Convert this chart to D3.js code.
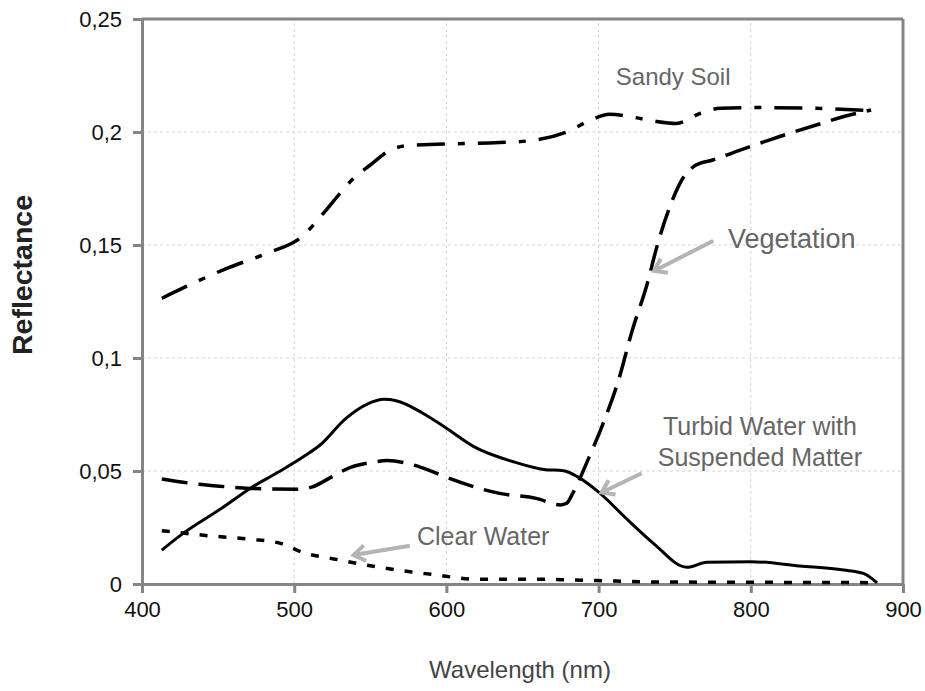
<!DOCTYPE html>
<html>
<head>
<meta charset="utf-8">
<script src="https://cdn.jsdelivr.net/npm/d3@7"></script>
<style>
  html, body { margin: 0; padding: 0; background: #fff; }
  svg { display: block; }
</style>
</head>
<body>
<svg id="chart" width="925" height="691"></svg>
<script>
// ---------------- DATA ----------------
const xTickValues = [400, 500, 600, 700, 800, 900];
const xTickLabels = ["400", "500", "600", "700", "800", "900"];
const yTickValues = [0, 0.05, 0.1, 0.15, 0.2, 0.25];
const yTickLabels = ["0", "0,05", "0,1", "0,15", "0,2", "0,25"];

const sandyWl   = [413, 427, 457, 482, 505, 520, 529, 539, 550, 563, 575, 589, 635, 659, 679, 695, 707, 723, 736, 751, 767, 780, 804, 843, 879];
const sandyRefl = [0.1264, 0.131, 0.140, 0.1463, 0.1537, 0.1647, 0.172, 0.1795, 0.1854, 0.192, 0.194, 0.1945, 0.1953, 0.1965, 0.200, 0.2053, 0.2078, 0.2065, 0.2049, 0.2038, 0.2083, 0.2105, 0.2108, 0.2105, 0.2094];

const vegWl   = [413, 427, 449, 471, 504, 512, 525, 537, 550, 561, 576, 588, 599, 635, 659, 675, 679, 683, 693, 703, 713, 722, 732, 738, 746, 756, 764, 775, 793, 819, 843, 865, 879];
const vegRefl = [0.0465, 0.045, 0.0434, 0.0423, 0.0419, 0.043, 0.0475, 0.0516, 0.0537, 0.0546, 0.0531, 0.0505, 0.0475, 0.0401, 0.0379, 0.035, 0.0357, 0.0401, 0.0549, 0.0711, 0.0900, 0.1120, 0.1330, 0.1485, 0.1655, 0.1802, 0.1854, 0.1876, 0.192, 0.198, 0.2031, 0.2075, 0.2097];

const turbidWl   = [413, 427, 453, 471, 489, 506, 517, 534, 548, 559, 567, 584, 600, 618, 644, 664, 677, 686, 701, 718, 736, 758, 771, 800, 832, 861, 874, 883];
const turbidRefl = [0.015, 0.0224, 0.0338, 0.0423, 0.0493, 0.0563, 0.0615, 0.0733, 0.0796, 0.0817, 0.0811, 0.0758, 0.0689, 0.0608, 0.0541, 0.0507, 0.0501, 0.0475, 0.0401, 0.0291, 0.018, 0.0074, 0.0096, 0.0099, 0.008, 0.0062, 0.0047, 0.0005];

const clearWl   = [413, 443, 471, 491, 506, 526, 556, 576, 590, 620, 666, 681, 699, 736, 780, 878];
const clearRefl = [0.0236, 0.0214, 0.0198, 0.018, 0.0139, 0.0111, 0.0074, 0.0054, 0.0043, 0.0021, 0.0021, 0.0018, 0.0015, 0.0009, 0.0008, 0.0006];

const seriesNames = ["Sandy Soil", "Vegetation", "Turbid Water", "Clear Water"];

// annotation labels (data coordinates)
const labelTexts  = [["Sandy Soil"], ["Vegetation"], ["Turbid Water with", "Suspended Matter"], ["Clear Water"]];
const labelWl     = [749, 785, 806, 580.7];
const labelRefl   = [0.2208, 0.1487, 0.0659, 0.0173];
const arrowTailWl   = [null, 775.4, 728.3, 576];
const arrowTailRefl = [null, 0.1519, 0.049, 0.0169];
const arrowTipWl    = [null, 736.4, 702, 539];
const arrowTipRefl  = [null, 0.1385, 0.0405, 0.0128];

// ---------------- LAYOUT ----------------
const svg = d3.select("#chart");
const x = d3.scaleLinear().domain([400, 900]).range([142, 903]);
const y = d3.scaleLinear().domain([0, 0.25]).range([584, 19]);
const axisColor = "#858585";
const font = "'Liberation Sans', Arial, sans-serif";

// grid
const grid = svg.append("g");
grid.selectAll("line.vg").data(xTickValues.slice(1, -1)).enter().append("line")
  .attr("x1", d => x(d)).attr("x2", d => x(d)).attr("y1", y(0)).attr("y2", y(0.25))
  .attr("stroke", "#d4d4d4").attr("stroke-width", 1).attr("stroke-dasharray", "3,3");
grid.selectAll("line.hg").data(yTickValues.slice(1, -1)).enter().append("line")
  .attr("x1", x(400)).attr("x2", x(900)).attr("y1", d => y(d)).attr("y2", d => y(d))
  .attr("stroke", "#d4d4d4").attr("stroke-width", 1).attr("stroke-dasharray", "3,3");

// frame top/right
svg.append("line").attr("x1", x(400)).attr("x2", x(900)).attr("y1", y(0.25)).attr("y2", y(0.25))
  .attr("stroke", axisColor).attr("stroke-width", 3);
svg.append("line").attr("x1", x(900)).attr("x2", x(900)).attr("y1", y(0.25)).attr("y2", y(0))
  .attr("stroke", axisColor).attr("stroke-width", 3);

// axes
const xAxis = d3.axisBottom(x).tickValues(xTickValues)
  .tickFormat((d, i) => xTickLabels[i]).tickSize(9).tickSizeOuter(0).tickPadding(8);
const yAxis = d3.axisLeft(y).tickValues(yTickValues)
  .tickFormat((d, i) => yTickLabels[i]).tickSize(9).tickSizeOuter(0).tickPadding(11);

const gx = svg.append("g").attr("transform", `translate(0,${y(0)})`).call(xAxis);
const gy = svg.append("g").attr("transform", `translate(${x(400)},0)`).call(yAxis);
[gx, gy].forEach(g => {
  g.select(".domain").attr("stroke", axisColor).attr("stroke-width", 3);
  g.selectAll(".tick line").attr("stroke", axisColor).attr("stroke-width", 3);
  g.selectAll(".tick text").attr("fill", "#111").style("font-family", font).style("font-size", "22px");
});

// axis titles
svg.append("text").attr("x", 520).attr("y", 678).attr("text-anchor", "middle")
  .style("font-family", font).style("font-size", "24px").attr("fill", "#444")
  .text("Wavelength (nm)");
svg.append("text").attr("transform", "translate(32,275) rotate(-90)").attr("text-anchor", "middle")
  .style("font-family", font).style("font-size", "27px").style("font-weight", "bold").attr("fill", "#222")
  .attr("textLength", 160).attr("lengthAdjust", "spacingAndGlyphs")
  .text("Reflectance");

// series
const line = d3.line().x(d => x(d[0])).y(d => y(d[1])).curve(d3.curveMonotoneX);
const seriesWl = [sandyWl, vegWl, turbidWl, clearWl];
const seriesRefl = [sandyRefl, vegRefl, turbidRefl, clearRefl];
const seriesDash = ["28,13,7,13", "26,11", null, "8,11"];
const seriesWidth = [3.5, 3.5, 3, 3.5];
seriesNames.forEach((name, i) => {
  const pts = seriesWl[i].map((w, j) => [w, seriesRefl[i][j]]);
  svg.append("path").datum(pts).attr("d", line)
    .attr("fill", "none").attr("stroke", "#000")
    .attr("stroke-width", seriesWidth[i])
    .attr("stroke-dasharray", seriesDash[i])
    .attr("stroke-linejoin", "round");
});

// annotations
const annColor = "#666";
const arrowColor = "#b4b4b4";
const labelSizes = ["24px", "27px", "25px", "25px"];
labelTexts.forEach((lines, i) => {
  const anchor = (i === 0 || i === 2) ? "middle" : "start";
  const t = svg.append("text").attr("x", x(labelWl[i])).attr("y", y(labelRefl[i]))
    .attr("text-anchor", anchor).attr("fill", annColor)
    .style("font-family", font).style("font-size", labelSizes[i]);
  lines.forEach((s, k) => {
    t.append("tspan").attr("x", x(labelWl[i])).attr("dy", k === 0 ? 0 : 31).text(s);
  });
  if (arrowTailWl[i] !== null) {
    const x1 = x(arrowTailWl[i]), y1 = y(arrowTailRefl[i]);
    const x2 = x(arrowTipWl[i]), y2 = y(arrowTipRefl[i]);
    const ang = Math.atan2(y1 - y2, x1 - x2);
    const L = 14, a = 0.6;
    const p = `M${x1},${y1}L${x2},${y2}` +
      `M${x2 + L * Math.cos(ang - a)},${y2 + L * Math.sin(ang - a)}L${x2},${y2}` +
      `L${x2 + L * Math.cos(ang + a)},${y2 + L * Math.sin(ang + a)}`;
    svg.append("path").attr("d", p).attr("fill", "none").attr("stroke", arrowColor)
      .attr("stroke-width", 4).attr("stroke-linecap", "butt").attr("stroke-linejoin", "miter");
  }
});
</script>
</body>
</html>
